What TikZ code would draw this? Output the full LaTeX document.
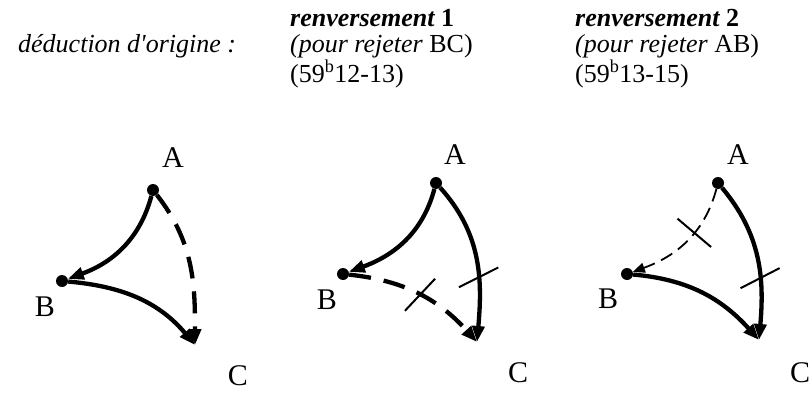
\documentclass[tikz,border=0pt]{standalone}
\usepackage{fontspec}
\setmainfont{Liberation Serif}[Ligatures=TeXOff]
\usetikzlibrary{arrows.meta, positioning}

\begin{document}
\begin{tikzpicture}[
    x=1pt, y=1pt,
    point/.style={circle, fill, inner sep=0pt, minimum size=12pt},
    lettre/.style={font=\fontsize{30}{30}\selectfont, inner sep=0pt},
    titre/.style={anchor=base west, font=\fontsize{26}{26}\selectfont, inner sep=0pt, text height=18pt, text depth=5pt},
    fleche/.style={-{Triangle[length=16pt, width=12pt]}, line width=4.3pt},
    tirets/.style={fleche, dash pattern=on 22pt off 13pt},
    fins/.style={-{Triangle[length=12pt, width=10pt]}, line width=1.8pt, dash pattern=on 13pt off 7pt},
    barre/.style={draw, solid, arrows=-, line width=2pt, sloped, minimum height=44pt, minimum width=0pt, inner sep=0pt}
]
\useasboundingbox (0,0) rectangle (809,392);

% en-tetes
\node[titre] (orig) at (18,339) {\itshape déduction d'origine :};
\node[titre] (r1) at (290,365) {\bfseries\itshape renversement \upshape 1};
\node[titre] (p1) at (290,339) {\itshape (pour rejeter \upshape BC)};
\node[titre] (n1) at (290,310) {(59\textsuperscript{b}12-13)};
\node[titre] (r2) at (575,365) {\bfseries\itshape renversement \upshape 2};
\node[titre] (p2) at (575,339) {\itshape (pour rejeter \upshape AB)};
\node[titre] (n2) at (575,310) {(59\textsuperscript{b}13-15)};

% deduction d'origine
\node[point] (A1) at (153,202) {};
\node[point] (B1) at (62,111) {};
\coordinate (C1) at (195,47);
\node[lettre] (lA1) at (173,234) {A};
\node[lettre] (lB1) at (45,85) {B};
\node[lettre] (lC1) at (238,16) {C};
\draw[fleche] (A1) to[out=-105, in=20] (B1);
\draw[fleche] (B1) to[out=-5, in=130] (C1);
\draw[tirets] (A1) to[out=-52, in=90] (C1);

% renversement 1
\node[point] (A2) at (436,209) {};
\node[point] (B2) at (343,118) {};
\coordinate (C2) at (477,50);
\node[lettre] (lA2) at (455,237) {A};
\node[lettre] (lB2) at (327,92) {B};
\node[lettre] (lC2) at (518,19) {C};
\draw[fleche] (A2) to[out=-105, in=20] (B2);
\draw[fleche] (A2) to[out=-48, in=85] node[barre, pos=0.62, rotate=22] {} (C2);
\draw[tirets] (B2) to[out=-6, in=132] node[barre, pos=0.5, rotate=-15] {} (C2);

% renversement 2
\node[point] (A3) at (718,209) {};
\node[point] (B3) at (627,118) {};
\coordinate (C3) at (759,52);
\node[lettre] (lA3) at (738,237) {A};
\node[lettre] (lB3) at (608,93) {B};
\node[lettre] (lC3) at (800,19) {C};
\draw[fins] (A3) to[out=-105, in=20] node[barre, pos=0.4] {} (B3);
\draw[fleche] (A3) to[out=-50, in=85] node[barre, pos=0.63, rotate=22] {} (C3);
\draw[fleche] (B3) to[out=-5, in=132] (C3);
\end{tikzpicture}
\end{document}
